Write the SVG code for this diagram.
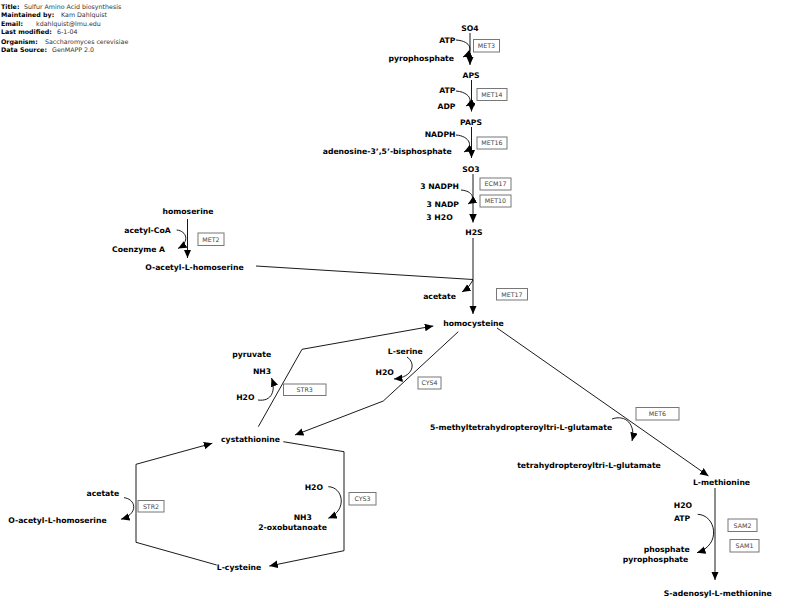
<svg xmlns="http://www.w3.org/2000/svg" width="789" height="608" viewBox="0 0 789 608">
<style>
.hl{font-family:"DejaVu Sans",sans-serif;font-size:6.3px;font-weight:bold;fill:#000}
.hv{font-family:"DejaVu Sans",sans-serif;font-size:6.3px;fill:#333}
.m{font-family:"DejaVu Sans",sans-serif;font-size:7.7px;font-weight:bold;fill:#000;text-anchor:middle}
.e{font-family:"DejaVu Sans",sans-serif;font-size:7.7px;font-weight:bold;fill:#000;text-anchor:end}
.g{font-family:"DejaVu Sans",sans-serif;font-size:6.3px;fill:#444;text-anchor:middle}
.gb{fill:#fff;stroke:#777;stroke-width:1}
.c{fill:none;stroke:#000;stroke-width:0.9}
.a{marker-end:url(#ah)}
</style>
<defs>
<marker id="ah" markerUnits="userSpaceOnUse" markerWidth="9" markerHeight="8" refX="8.5" refY="3.75" orient="auto">
<path d="M0,0 L8.5,3.75 L0,7.5 z" fill="#000"/>
</marker>
</defs>
<rect width="789" height="608" fill="#fff"/>
<g id="header">
<text class="hl" x="1" y="8.5">Title:</text><text class="hv" x="24" y="8.5">Sulfur Amino Acid biosynthesis</text>
<text class="hl" x="1" y="17">Maintained by:</text><text class="hv" x="61" y="17">Kam Dahlquist</text>
<text class="hl" x="1" y="25.5">Email:</text><text class="hv" x="36" y="25.5">kdahlquist@lmu.edu</text>
<text class="hl" x="1" y="33.5">Last modified:</text><text class="hv" x="57" y="33.5">6-1-04</text>
<text class="hl" x="1" y="43.5">Organism:</text><text class="hv" x="45" y="43.5">Saccharomyces cerevisiae</text>
<text class="hl" x="1" y="51.5">Data Source:</text><text class="hv" x="52" y="51.5">GenMAPP 2.0</text>
</g>
<g id="connectors">
<path class="c a" d="M470 33 L470 65"/>
<path class="c a" d="M471.5 80 L471.5 111.5"/>
<path class="c a" d="M471.5 127 L471.5 158"/>
<path class="c a" d="M473 174 L473 222.5"/>
<path class="c a" d="M473 238 L473 314"/>
<path class="c a" d="M187.5 219 L187.5 258"/>
<path class="c a" d="M715 488 L715 580"/>
<path class="c a" d="M497 328 L708.5 476"/>
<path class="c" d="M256 266 L473 279.5"/>
<path class="c a" d="M258.3 426.7 L302 349.3 L433.3 326"/>
<path class="c a" d="M458.3 331.7 L383.3 401 L295 435"/>
<path class="c a" d="M216.7 565 L136 542.3 L136 464.3 L212.3 443.3"/>
<path class="c a" d="M283.3 441.7 L344 451.7 L344 550.7 L269.3 566"/>
<path class="c a" d="M456 40 C472 41, 474 52, 463 57"/>
<path class="c a" d="M456 91 C470 92, 474 102, 466 106"/>
<path class="c a" d="M456 135 C470 136, 474 147, 464 152"/>
<path class="c a" d="M461 190 C473 191, 476 199, 468 204"/>
<path class="c a" d="M176.7 230 C187 231, 190 242, 178 248.5"/>
<path class="c a" d="M473 280 Q470 287, 462 292"/>
<path class="c a" d="M258 400 C272 402, 276 390, 271.5 378"/>
<path class="c a" d="M407 357 C416 363, 414 377, 394 379"/>
<path class="c a" d="M612 419 C626 414, 636 425, 632 441"/>
<path class="c a" d="M124 497.7 C136 499, 139 514, 121 519.3"/>
<path class="c a" d="M328.3 486.7 C343 487, 348 510, 328.3 518.3"/>
<path class="c a" d="M697.7 514.3 C716 515, 722 545, 697 552.7"/>
</g>
<g id="n-SO4"><text class="m" x="470" y="30.8">SO4</text></g>
<g id="n-ATP1"><text class="e" x="455.5" y="42.8">ATP</text></g>
<g id="n-pyrophosphate1"><text class="e" x="454" y="60.5">pyrophosphate</text></g>
<g id="n-APS"><text class="m" x="471" y="78.3">APS</text></g>
<g id="n-ATP2"><text class="e" x="455.5" y="92.8">ATP</text></g>
<g id="n-ADP"><text class="e" x="455.5" y="108.5">ADP</text></g>
<g id="n-PAPS"><text class="m" x="471" y="124.5">PAPS</text></g>
<g id="n-NADPH"><text class="e" x="455.5" y="137">NADPH</text></g>
<g id="n-adenosine"><text class="e" x="451.7" y="154">adenosine-3’,5’-bisphosphate</text></g>
<g id="n-SO3"><text class="m" x="471" y="171.8">SO3</text></g>
<g id="n-3NADPH"><text class="e" x="459" y="188.5">3 NADPH</text></g>
<g id="n-3NADP"><text class="e" x="459" y="207">3 NADP</text></g>
<g id="n-3H2O"><text class="e" x="452.7" y="220">3 H2O</text></g>
<g id="n-H2S"><text class="m" x="474" y="234.5">H2S</text></g>
<g id="n-homoserine"><text class="m" x="188" y="213.8">homoserine</text></g>
<g id="n-acetylCoA"><text class="e" x="170.7" y="233.2">acetyl-CoA</text></g>
<g id="n-CoenzymeA"><text class="e" x="165" y="251.5">Coenzyme A</text></g>
<g id="n-OAH1"><text class="m" x="194.5" y="269.5">O-acetyl-L-homoserine</text></g>
<g id="n-acetate1"><text class="m" x="439.5" y="298.8">acetate</text></g>
<g id="n-homocysteine"><text class="m" x="473.5" y="326">homocysteine</text></g>
<g id="n-pyruvate"><text class="m" x="251.7" y="356.8">pyruvate</text></g>
<g id="n-NH3a"><text class="m" x="262" y="373.5">NH3</text></g>
<g id="n-H2Oa"><text class="m" x="245.3" y="400">H2O</text></g>
<g id="n-Lserine"><text class="m" x="405.3" y="353.8">L-serine</text></g>
<g id="n-H2Ob"><text class="m" x="384.7" y="374.5">H2O</text></g>
<g id="n-cystathionine"><text class="m" x="250.5" y="442.3">cystathionine</text></g>
<g id="n-5MTHF"><text class="m" x="521" y="429.5">5-methyltetrahydropteroyltri-L-glutamate</text></g>
<g id="n-THF"><text class="m" x="589" y="468.3">tetrahydropteroyltri-L-glutamate</text></g>
<g id="n-Lmethionine"><text class="m" x="721.5" y="485">L-methionine</text></g>
<g id="n-acetate2"><text class="m" x="102.8" y="495.5">acetate</text></g>
<g id="n-OAH2"><text class="m" x="57.5" y="522.8">O-acetyl-L-homoserine</text></g>
<g id="n-H2Oc"><text class="m" x="313.8" y="489.5">H2O</text></g>
<g id="n-NH3b"><text class="m" x="302.8" y="519.5">NH3</text></g>
<g id="n-oxobutanoate"><text class="m" x="292.5" y="530">2-oxobutanoate</text></g>
<g id="n-Lcysteine"><text class="m" x="239" y="570">L-cysteine</text></g>
<g id="n-H2Od"><text class="m" x="683" y="507.8">H2O</text></g>
<g id="n-ATP3"><text class="m" x="682" y="521">ATP</text></g>
<g id="n-phosphate"><text class="m" x="666.7" y="551.5">phosphate</text></g>
<g id="n-pyrophosphate2"><text class="m" x="655.5" y="562">pyrophosphate</text></g>
<g id="n-SAM"><text class="m" x="717.8" y="596">S-adenosyl-L-methionine</text></g>
<g id="g-MET3"><rect class="gb" x="473.5" y="39.5" width="26" height="12.5"/><text class="g" x="486.5" y="48">MET3</text></g>
<g id="g-MET14"><rect class="gb" x="477" y="88.5" width="30" height="12"/><text class="g" x="492" y="96.8">MET14</text></g>
<g id="g-MET16"><rect class="gb" x="477" y="137" width="30" height="12"/><text class="g" x="492" y="145.3">MET16</text></g>
<g id="g-ECM17"><rect class="gb" x="480" y="178" width="31" height="12"/><text class="g" x="495.5" y="186.3">ECM17</text></g>
<g id="g-MET10"><rect class="gb" x="480" y="195" width="31" height="12"/><text class="g" x="495.5" y="203.3">MET10</text></g>
<g id="g-MET2"><rect class="gb" x="198" y="233" width="26" height="12.5"/><text class="g" x="211" y="241.5">MET2</text></g>
<g id="g-MET17"><rect class="gb" x="496.5" y="288.5" width="31" height="11.5"/><text class="g" x="512" y="296.5">MET17</text></g>
<g id="g-STR3"><rect class="gb" x="283.5" y="384" width="42.5" height="11.5"/><text class="g" x="304.7" y="392">STR3</text></g>
<g id="g-CYS4"><rect class="gb" x="418" y="377" width="23" height="12"/><text class="g" x="429.5" y="385.3">CYS4</text></g>
<g id="g-MET6"><rect class="gb" x="636" y="407.5" width="43" height="12.5"/><text class="g" x="657.5" y="416">MET6</text></g>
<g id="g-STR2"><rect class="gb" x="138" y="500.5" width="26" height="11.5"/><text class="g" x="151" y="508.5">STR2</text></g>
<g id="g-CYS3"><rect class="gb" x="349" y="492.5" width="27" height="12.5"/><text class="g" x="362.5" y="501">CYS3</text></g>
<g id="g-SAM2"><rect class="gb" x="728" y="519" width="29" height="12.5"/><text class="g" x="742.5" y="527.5">SAM2</text></g>
<g id="g-SAM1"><rect class="gb" x="730" y="539.5" width="29" height="12.5"/><text class="g" x="744.5" y="548">SAM1</text></g>
</svg>
